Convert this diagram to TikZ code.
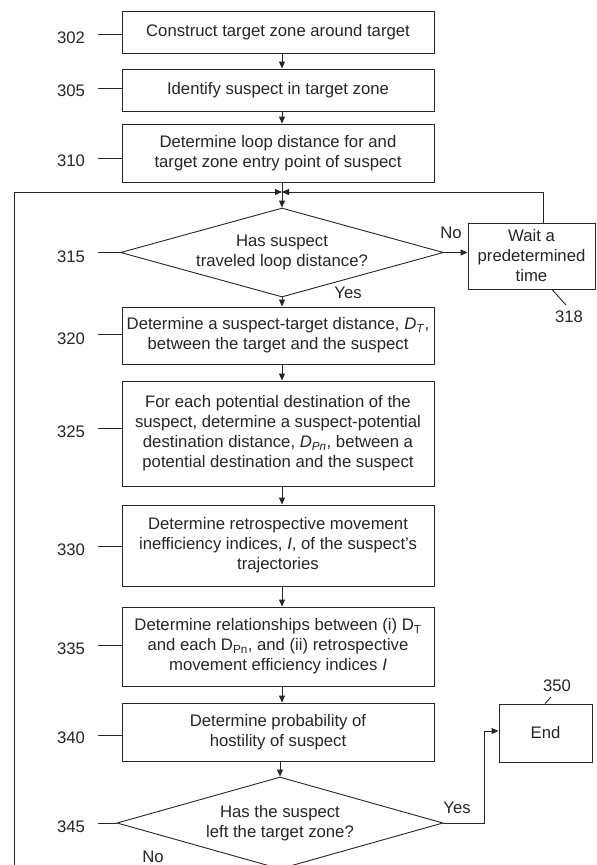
\documentclass[tikz,border=0pt]{standalone}
\usepackage{fontspec}
\setmainfont{Liberation Sans}
\usetikzlibrary{shapes.geometric,arrows.meta,calc}
\begin{document}
\begin{tikzpicture}[x=1pt,y=-1pt,
  every node/.style={font=\fontsize{16.7}{20}\selectfont, text=black!85},
  ln/.style={line width=0.9pt, draw=black!85},
  boxst/.style={draw, ln, inner sep=0pt, align=center, minimum width=312pt},
  sbox/.style={draw, ln, inner sep=0pt, align=center},
  dia/.style={draw, ln, diamond, inner sep=0pt, align=center},
  arr/.style={ln, -{Triangle[length=7pt,width=6pt]}},
  lbl/.style={inner sep=0pt}]
\useasboundingbox (0,0) rectangle (597,865);
\clip (0,0) rectangle (597,865);
\fill[white] (0,0) rectangle (597,865);

% main column
\node[boxst, minimum height=42pt] (b302) at (278,32) {Construct target zone around target};
\node[boxst, minimum height=42pt] (b305) at (278,90) {Identify suspect in target zone};
\node[boxst, minimum height=58pt] (b310) at (278,153) {Determine loop distance for and\\target zone entry point of suspect};
\node[dia, minimum width=323pt, minimum height=89pt, shape aspect=3.6] (d315) at (282,252.5) {Has suspect\\traveled loop distance?};
\node[sbox, minimum width=127pt, minimum height=66pt] (b318) at (531.5,256) {Wait a\\predetermined\\time};
\node[boxst, minimum height=57pt] (b320) at (278,335.5) {Determine a suspect-target distance, \textit{D}\textsubscript{\textit{T}},\\between the target and the suspect};
\node[boxst, minimum height=105pt] (b325) at (278,433.5) {For each potential destination of the\\suspect, determine a suspect-potential\\destination distance, \textit{D}\textsubscript{\textit{Pn}}, between a\\potential destination and the suspect};
\node[boxst, minimum height=81pt] (b330) at (278,545.5) {Determine retrospective movement\\inefficiency indices, \textit{I}, of the suspect's\\trajectories};
\node[boxst, minimum height=79pt] (b335) at (278,646.5) {Determine relationships between (i) D\textsubscript{T}\\and each D\textsubscript{Pn}, and (ii) retrospective\\movement efficiency indices \textit{I}};
\node[boxst, minimum height=58pt] (b340) at (278,732) {Determine probability of\\hostility of suspect};
\node[dia, minimum width=326pt, minimum height=92pt, shape aspect=3.5] (d345) at (280,823) {Has the suspect\\left the target zone?};
\node[sbox, minimum width=93pt, minimum height=58pt] (b350) at (545.5,733) {End};

% reference numerals with leaders
\foreach \n/\ty/\ly/\tgt in {302/38/34/b302, 305/91/88/b305, 310/161/158/b310,
    315/257/252.5/d315, 320/339/334/b320, 325/432/428/b325, 330/550/546/b330,
    335/649/645/b335, 340/738/735/b340, 345/827/823/d345}{
  \node[lbl] (l\n) at (71,\ty) {\n};
  \draw[ln] (98,\ly) -- (\tgt.west |- 0,\ly);
}
\node[lbl] (l318) at (569,317) {318};
\draw[ln] (b318.south -| 552,0) -- (566,305);
\node[lbl] (l350) at (557,686) {350};
\draw[ln] (b350.north -| 545,0) -- (551,697);

% branch labels
\node[lbl] (no1) at (451,233) {No};
\node[lbl] (yes1) at (348,293) {Yes};
\node[lbl] (yes2) at (457,808) {Yes};
\node[lbl] (no2) at (153,857) {No};

% connectors
\coordinate (m) at (282,192);
\coordinate (lr) at (543,192);
\coordinate (ll) at (14,192);
\draw[arr] (b302.south -| m) -- (b305.north -| m);
\draw[arr] (b305.south -| m) -- (b310.north -| m);
\draw[arr] (b310.south -| m) -- (d315.north);
\draw[arr] (d315.east) -- (d315.east -| b318.west);
\draw[arr] (d315.south) -- (b320.north -| m);
\draw[arr] (b320.south -| m) -- (b325.north -| m);
\draw[arr] (b325.south -| m) -- (b330.north -| m);
\draw[arr] (b330.south -| m) -- (b335.north -| m);
\draw[arr] (b335.south -| m) -- (b340.north -| m);
\draw[arr] (b340.south -| d345.north) -- (d345.north);
\draw[arr] (b318.north -| lr) -- (lr) -- (m);
\draw[arr] (d345.south) -- ++(0,20) -| (ll) -- (m);
\draw[arr] (d345.east) -- ++(41,0) |- ([yshift=2pt]b350.west);
\end{tikzpicture}
\end{document}
